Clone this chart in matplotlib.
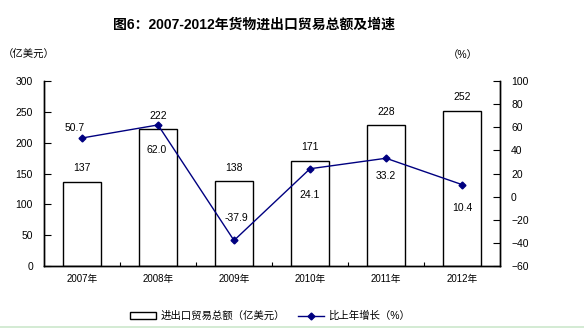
import matplotlib.pyplot as plt
from matplotlib.patches import Rectangle
from matplotlib.lines import Line2D

plt.rcParams['font.family'] = ['Liberation Sans', 'Noto Sans CJK SC', 'DejaVu Sans']

years = ['2007年', '2008年', '2009年', '2010年', '2011年', '2012年']
trade_total = [137, 222, 138, 171, 228, 252]
growth = [50.7, 62.0, -37.9, 24.1, 33.2, 10.4]

# label offsets for the growth values (points): dx, dy
growth_offsets = [(-5, 7), (-1, -18), (2, 16), (0, -19), (0, -13), (0, -17)]

NAVY = '#000080'

fig = plt.figure(figsize=(5.84, 3.28), dpi=100)
ax = fig.add_axes([44 / 584, 62 / 328, 456 / 584, 185 / 328])
ax2 = ax.twinx()

x = list(range(len(years)))
ax.bar(x, trade_total, width=0.5, color='white', edgecolor='black', linewidth=1, zorder=2)
for xi, v in zip(x, trade_total):
    ax.annotate(str(v), (xi, v), xytext=(0, 6), textcoords='offset points',
                ha='center', va='bottom', fontsize=7.5)

ax2.plot(x, growth, color=NAVY, lw=1, marker='D', ms=3.5, zorder=3)
for xi, v, (dx, dy) in zip(x, growth, growth_offsets):
    ax2.annotate(f'{v:.1f}', (xi, v), xytext=(dx, dy), textcoords='offset points',
                 ha='center', va='center', fontsize=7.5)

ax.set_xlim(-0.5, 5.5)
ax.set_ylim(0, 300)
ax.set_yticks(range(0, 301, 50))
ax2.set_ylim(-60, 100)
ax2.set_yticks(range(-60, 101, 20))

ax.set_xticks(x)
ax.set_xticklabels(years, fontsize=7)
ax.set_xticks([i + 0.5 for i in range(5)], minor=True)
ax.tick_params(axis='x', which='major', length=0, pad=6)
ax.tick_params(axis='x', which='minor', direction='in', length=3, width=0.8)
ax.tick_params(axis='y', direction='in', length=5, width=0.8, labelsize=7.5, pad=8)
ax2.tick_params(axis='y', direction='in', length=5, width=0.8, labelsize=7.5, pad=8)

for a in (ax, ax2):
    a.spines['top'].set_visible(False)
    for s in ('left', 'right', 'bottom'):
        a.spines[s].set_linewidth(1)

fig.text(254 / 584, 1 - 25 / 328, '图6：2007-2012年货物进出口贸易总额及增速', ha='center', va='center',
         fontsize=10, fontweight='bold')
fig.text(3 / 584, 1 - 55 / 328, '（亿美元）', ha='left', va='center', fontsize=7.5)
fig.text(463 / 584, 1 - 55 / 328, '（%）', ha='center', va='center', fontsize=7.5)

handles = [Rectangle((0, 0), 1, 1, facecolor='white', edgecolor='black', linewidth=1),
           Line2D([], [], color=NAVY, lw=1, marker='D', ms=3.5)]
fig.legend(handles, ['进出口贸易总额（亿美元）', '比上年增长（%）'], loc='center',
           bbox_to_anchor=(270 / 584, 1 - 316 / 328), ncol=2, frameon=False,
           fontsize=7.5, handlelength=2.5, handleheight=0.6, columnspacing=1.2,
           handletextpad=0.4)

fig.patches.append(Rectangle((0, 0), 1, 2.5 / 328, transform=fig.transFigure,
                             facecolor='#d4ebd4', edgecolor='none'))

fig.savefig('out.png', dpi=100)
